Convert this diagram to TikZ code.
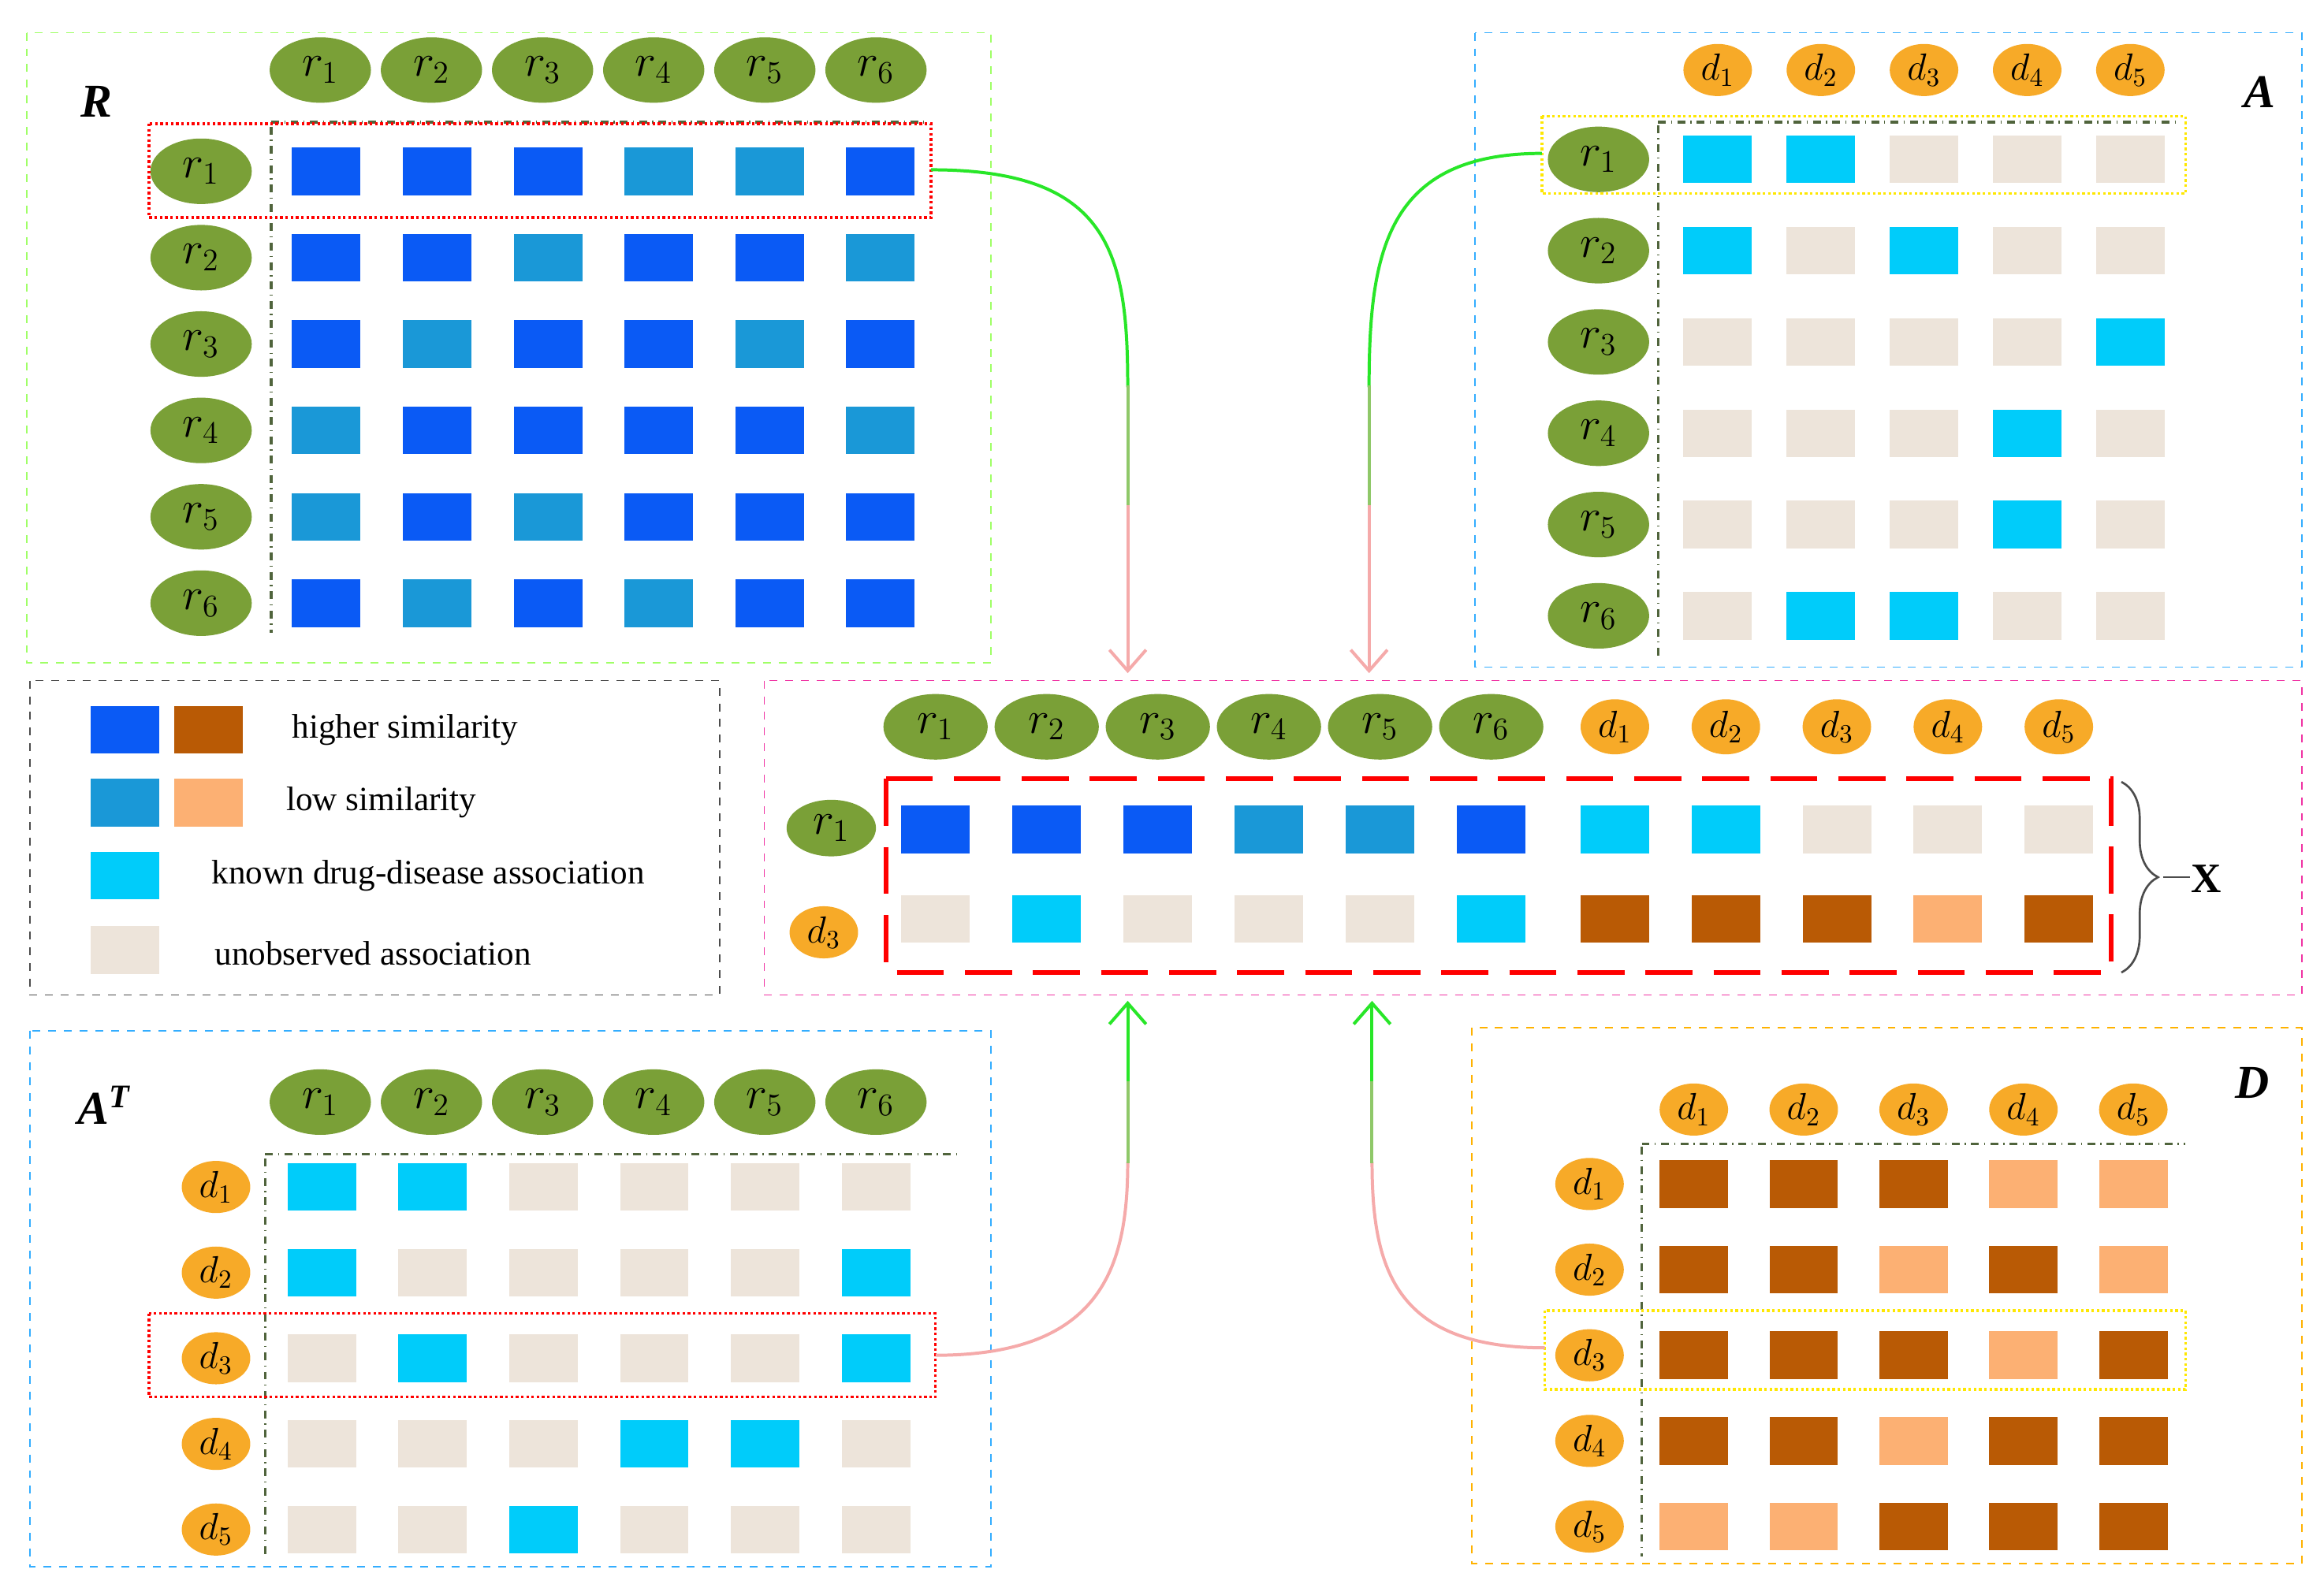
\documentclass[tikz,border=0pt]{standalone}
\usepackage{fontspec}
\setmainfont{Liberation Serif}
\usetikzlibrary{decorations.pathreplacing,arrows.meta,shapes.geometric}
\definecolor{hb}{RGB}{10,90,245}
\definecolor{lb}{RGB}{26,152,215}
\definecolor{cy}{RGB}{0,204,250}
\definecolor{be}{RGB}{237,228,218}
\definecolor{hd}{RGB}{185,90,5}
\definecolor{lo}{RGB}{252,176,115}
\definecolor{gr}{RGB}{122,160,55}
\definecolor{orr}{RGB}{247,170,40}
\definecolor{dd}{RGB}{80,100,60}
\definecolor{pk}{RGB}{245,170,170}
\definecolor{gn}{RGB}{40,230,40}
\begin{document}
\begin{tikzpicture}[x=0.02cm,y=-0.02cm,
 sq/.style={minimum width=0.92cm,minimum height=0.64cm,inner sep=0,draw=none},
 sqH/.style={sq,fill=hb}, sqL/.style={sq,fill=lb},
 sq1/.style={sq,fill=cy}, sq0/.style={sq,fill=be},
 sqB/.style={sq,fill=hd}, sqO/.style={sq,fill=lo},
 ge/.style={ellipse,fill=gr,minimum width=1.36cm,minimum height=0.88cm,inner sep=0,font=\fontsize{17}{18}\selectfont},
 oe/.style={ellipse,fill=orr,minimum width=0.92cm,minimum height=0.70cm,inner sep=0,font=\fontsize{14}{16}\selectfont},
 panel/.style={dashed,line width=0.5pt},
 dl/.style={dd,dash dot,line width=1pt},
 lbl/.style={font=\fontsize{18}{20}\selectfont\bfseries\itshape},
 lg/.style={font=\fontsize{13}{15}\selectfont,anchor=west},
 con/.style={line width=1.2pt}]
\useasboundingbox (0,0) rectangle (1560,1066);
% ---------- R panel
\draw[panel,green!50!lime!60] (18,22) rectangle (665,445);
\node[lbl] (Rl) at (65,68) {R};
\foreach \j in {1,...,6} \node[ge] (Rh\j) at ({215+74.6*(\j-1)},47) {$r_{\j}$};
\foreach \row [count=\i] in {{H,H,H,L,L,H},{H,H,L,H,H,L},{H,L,H,H,L,H},{L,H,H,H,H,L},{L,H,L,H,H,H},{H,L,H,L,H,H}}{
 \node[ge] (Rr\i) at (135,{115+58*(\i-1)}) {$r_{\i}$};
 \foreach \c [count=\j] in \row \node[sq\c] (R\i\j) at ({219+74.4*(\j-1)},{115+58*(\i-1)}) {};}
\draw[dl] (182,85) -- (182,425);
\draw[dl] (182,82) -- (620,82);
\draw[red,densely dotted,line width=1pt] (100,83) rectangle (625,146);
\coordinate (Rout) at (625,114);
% ---------- A panel
\draw[panel,blue!40!cyan!80] (990,22) rectangle (1545,448);
\node[lbl] (Al) at (1517,62) {A};
\foreach \j in {1,...,5} \node[oe] (Ah\j) at ({1153+69.25*(\j-1)},47) {$d_{\j}$};
\foreach \row [count=\i] in {{1,1,0,0,0},{1,0,1,0,0},{0,0,0,0,1},{0,0,0,1,0},{0,0,0,1,0},{0,1,1,0,0}}{
 \node[ge] (Ar\i) at (1073,{107+61.3*(\i-1)}) {$r_{\i}$};
 \foreach \c [count=\j] in \row \node[sq\c] (A\i\j) at ({1153+69.25*(\j-1)},{107+61.3*(\i-1)}) {};}
\draw[dl] (1113,84) -- (1113,440);
\draw[dl] (1113,82) -- (1460,82);
\draw[yellow!90!orange,densely dotted,line width=1pt] (1035,78) rectangle (1467,130);
\coordinate (Aout) at (1035,103);
% ---------- legend
\draw[panel,black!70] (20,457) rectangle (483,668);
\node[sqH] (g1) at (84,490) {}; \node[sqB] (g2) at (140,490) {};
\node[lg] (t1) at (190,490) {higher similarity};
\node[sqL] (g3) at (84,539) {}; \node[sqO] (g4) at (140,539) {};
\node[lg] (t2) at (186,539) {low similarity};
\node[sq1] (g5) at (84,588) {};
\node[lg] (t3) at (136,588) {known drug-disease association};
\node[sq0] (g6) at (84,638) {};
\node[lg] (t4) at (138,640) {unobserved association};
% ---------- center
\draw[panel,magenta!80] (513,457) rectangle (1545,668);
\foreach \j in {1,...,6} \node[ge,minimum width=1.40cm] (Xh\j) at ({628+74.6*(\j-1)},488) {$r_{\j}$};
\foreach \j in {1,...,5} \node[oe,minimum height=0.74cm] (Xd\j) at ({1084+74.5*(\j-1)},488) {$d_{\j}$};
\node[ge,minimum width=1.2cm,minimum height=0.76cm] (Xr1) at (558,556) {$r_{1}$};
\node[oe] (Xr2) at (553,626) {$d_{3}$};
\foreach \c [count=\j] in {H,H,H,L,L,H,1,1,0,0,0}
 \node[sq\c] (X1\j) at ({\j<7 ? 628+74.6*(\j-1) : 1084+74.5*(\j-7)},557) {};
\foreach \c [count=\j] in {0,1,0,0,0,1,B,B,B,O,B}
 \node[sq\c] (X2\j) at ({\j<7 ? 628+74.6*(\j-1) : 1084+74.5*(\j-7)},617) {};
\draw[red,dash pattern=on 18pt off 8pt,line width=1.8pt] (595,523) rectangle (1417,653);
\draw[decorate,decoration={brace,amplitude=14pt},black!70,line width=0.8pt] (1424,525) -- (1424,653);
\draw[black!70,line width=0.8pt] (1452,589) -- (1470,589);
\node[font=\fontsize{16}{18}\selectfont\bfseries] (X) at (1481,590) {X};
\coordinate (In1) at (757,452); \coordinate (In2) at (919,452);
\coordinate (In3) at (757,672); \coordinate (In4) at (921,672);
% ---------- A^T panel
\draw[panel,blue!40!cyan!80] (20,692) rectangle (665,1052);
\node[lbl] (ATl) at (70,742) {A\textsuperscript{T}};
\foreach \j in {1,...,6} \node[ge] (Th\j) at ({215+74.6*(\j-1)},740) {$r_{\j}$};
\foreach \row [count=\i] in {{1,1,0,0,0,0},{1,0,0,0,0,1},{0,1,0,0,0,1},{0,0,0,1,1,0},{0,0,1,0,0,0}}{
 \node[oe] (Tr\i) at (145,{797+57.5*(\i-1)}) {$d_{\i}$};
 \foreach \c [count=\j] in \row \node[sq\c] (T\i\j) at ({216+74.4*(\j-1)},{797+57.5*(\i-1)}) {};}
\draw[dl] (178,778) -- (178,1045);
\draw[dl] (178,775) -- (645,775);
\draw[red,densely dotted,line width=1pt] (100,882) rectangle (628,938);
\coordinate (Tout) at (628,910);
% ---------- D panel
\draw[panel,orange!60!yellow] (988,690) rectangle (1545,1050);
\node[lbl] (Dl) at (1512,727) {D};
\foreach \j in {1,...,5} \node[oe] (Dh\j) at ({1137+73.75*(\j-1)},745) {$d_{\j}$};
\foreach \row [count=\i] in {{B,B,B,O,O},{B,B,O,B,O},{B,B,B,O,B},{B,B,O,B,B},{O,O,B,B,B}}{
 \node[oe] (Dr\i) at (1067,{795+57.5*(\i-1)}) {$d_{\i}$};
 \foreach \c [count=\j] in \row \node[sq\c] (D\i\j) at ({1137+73.75*(\j-1)},{795+57.5*(\i-1)}) {};}
\draw[dl] (1102,770) -- (1102,1045);
\draw[dl] (1102,768) -- (1467,768);
\draw[yellow!90!orange,densely dotted,line width=1pt] (1037,880) rectangle (1467,933);
\coordinate (Dout) at (1037,905);
% ---------- connectors
\draw[con,gn] (Rout) .. controls (745,114) and (757,170) .. (757,260);
\draw[con,gn!50!pk] (757,259) -- (757,340);
\draw[con,pk,-{Straight Barb[length=8pt,width=14pt]}] (757,339) -- (In1);
\draw[con,gn] (Aout) .. controls (930,103) and (919,170) .. (919,260);
\draw[con,gn!50!pk] (919,259) -- (919,340);
\draw[con,pk,-{Straight Barb[length=8pt,width=14pt]}] (919,339) -- (In2);
\draw[con,pk] (Tout) .. controls (740,910) and (757,850) .. (757,780);
\draw[con,gn!50!pk] (757,781) -- (757,725);
\draw[con,gn,-{Straight Barb[length=8pt,width=14pt]}] (757,726) -- (In3);
\draw[con,pk] (Dout) .. controls (935,905) and (921,850) .. (921,780);
\draw[con,gn!50!pk] (921,781) -- (921,725);
\draw[con,gn,-{Straight Barb[length=8pt,width=14pt]}] (921,726) -- (In4);
\end{tikzpicture}
\end{document}
